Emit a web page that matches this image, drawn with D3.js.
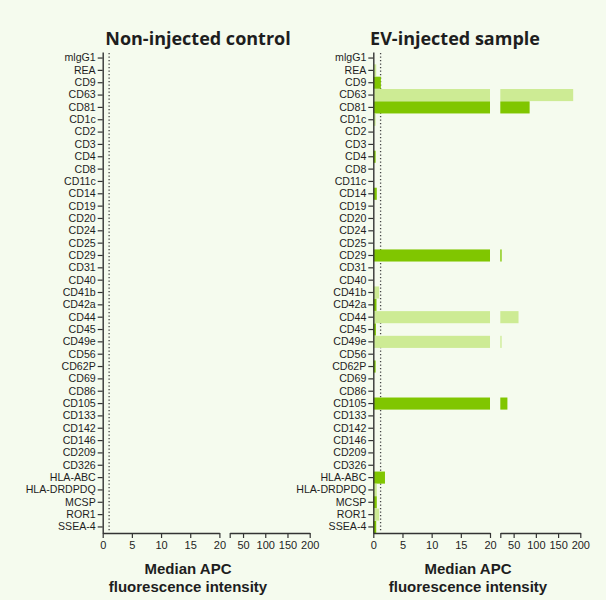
<!DOCTYPE html>
<html>
<head>
<meta charset="utf-8">
<script src="https://cdn.jsdelivr.net/npm/d3@7"></script>
<style>
  html, body { margin: 0; padding: 0; background: #f5fbee; }
  svg { display: block; }
  text { font-family: "Open Sans", "DejaVu Sans", sans-serif; fill: #1e1e1e; }
</style>
</head>
<body>
<script>
// Surface markers screened on the bead array
const markers = ["mlgG1", "REA", "CD9", "CD63", "CD81", "CD1c", "CD2", "CD3", "CD4", "CD8",
  "CD11c", "CD14", "CD19", "CD20", "CD24", "CD25", "CD29", "CD31", "CD40", "CD41b",
  "CD42a", "CD44", "CD45", "CD49e", "CD56", "CD62P", "CD69", "CD86", "CD105", "CD133",
  "CD142", "CD146", "CD209", "CD326", "HLA-ABC", "HLA-DRDPDQ", "MCSP", "ROR1", "SSEA-4"];

// Antibody group of each marker (1 or 2)
const markerGroup = [1, 2, 1, 2, 1, 2, 1, 1, 1, 1,
  1, 1, 1, 1, 1, 1, 1, 1, 1, 2,
  1, 2, 1, 2, 1, 1, 1, 1, 1, 1,
  1, 1, 1, 1, 1, 2, 1, 2, 1];

// Median APC fluorescence intensity, non-injected control
const controlValues = [0, 0, 0, 0, 0, 0, 0, 0, 0, 0,
  0, 0, 0, 0, 0, 0, 0, 0, 0, 0,
  0, 0, 0, 0, 0, 0, 0, 0, 0, 0,
  0, 0, 0, 0, 0, 0, 0, 0, 0];

// Median APC fluorescence intensity, EV-injected sample
const evValues = [0, 0.5, 1.3, 184, 86, 0.4, 0, 0, 0.4, 0,
  0, 0.6, 0, 0, 0, 0, 23, 0, 0, 1.0,
  0.55, 61, 0.45, 23, 0, 0.4, 0, 0, 36, 0,
  0, 0, 0, 0, 2.0, 0.6, 0.6, 1.0, 0.5];

// Background thresholds (dotted lines)
const thresholds = [1.1, 1.25];

const panelTitles = ["Non-injected control", "EV-injected sample"];
const lowTicks = [0, 5, 10, 15, 20];
const highTicks = [20, 50, 100, 150, 200];
const axisTitle = ["Median APC", "fluorescence intensity"];

const W = 606, H = 600;
const tickFont = "'Liberation Sans', Arimo, sans-serif";
const svg = d3.select("body").append("svg").attr("width", W).attr("height", H);
svg.append("rect").attr("width", W).attr("height", H).attr("fill", "#f5fbee");

const color = d3.scaleOrdinal().domain([1, 2]).range(["#80c600", "#cdeb94"]);

const y = d3.scaleBand().domain(markers).range([52, 533]).paddingInner(0.02);

const panels = [
  { title: panelTitles[0], values: controlValues, x0: 102.7, titleX: 198, labelX: 188, thr: thresholds[0] },
  { title: panelTitles[1], values: evValues, x0: 373.3, titleX: 455, labelX: 468, thr: thresholds[1] }
];

panels.forEach(p => {
  const g = svg.append("g");
  const xLow = d3.scaleLinear().domain([0, 20]).range([p.x0, p.x0 + 116.7]);
  const xHigh = d3.scaleLinear().domain([20, 200]).range([p.x0 + 127, p.x0 + 207]);

  // threshold line, under the bars
  g.append("line")
    .attr("x1", xLow(p.thr)).attr("x2", xLow(p.thr))
    .attr("y1", 53).attr("y2", 532)
    .attr("stroke", "#444").attr("stroke-width", 1.3)
    .attr("stroke-dasharray", "1.3,2.2");

  const rows = markers.map((m, i) => ({ m, v: p.values[i], grp: markerGroup[i] }));

  // lower segment of each bar
  g.selectAll("rect.low").data(rows.filter(d => d.v > 0)).join("rect")
    .attr("class", "low")
    .attr("x", xLow(0))
    .attr("y", d => y(d.m))
    .attr("width", d => xLow(Math.min(d.v, 20)) - xLow(0))
    .attr("height", y.bandwidth())
    .attr("fill", d => color(d.grp));

  // upper segment, beyond the axis break
  g.selectAll("rect.high").data(rows.filter(d => d.v > 20)).join("rect")
    .attr("class", "high")
    .attr("x", xHigh(20))
    .attr("y", d => y(d.m))
    .attr("width", d => xHigh(d.v) - xHigh(20))
    .attr("height", y.bandwidth())
    .attr("fill", d => color(d.grp));

  // y axis
  const yAxis = g.append("g")
    .attr("transform", `translate(${p.x0},0)`)
    .call(d3.axisLeft(y).tickSize(5).tickPadding(2).tickSizeOuter(0));
  yAxis.select(".domain").attr("stroke", "#333").attr("stroke-width", 1.4);
  yAxis.selectAll(".tick line").attr("stroke", "#333").attr("stroke-width", 1.2);
  yAxis.selectAll(".tick text").style("font-size", "10.6px").style("font-family", tickFont).attr("fill", "#1e1e1e");

  // x axis, two segments
  const axLow = g.append("g")
    .attr("transform", "translate(0,533)")
    .call(d3.axisBottom(xLow).tickValues(lowTicks).tickSize(5).tickSizeOuter(0).tickPadding(3));
  const axHigh = g.append("g")
    .attr("transform", "translate(0,533)")
    .call(d3.axisBottom(xHigh).tickValues(highTicks).tickSize(5).tickSizeOuter(0).tickPadding(3)
      .tickFormat(d => d === 20 ? "" : d));
  [axLow, axHigh].forEach(a => {
    a.select(".domain").attr("stroke", "#333").attr("stroke-width", 1.4);
    a.selectAll(".tick line").attr("stroke", "#333").attr("stroke-width", 1.2);
    a.selectAll(".tick text").style("font-size", "11px").style("font-family", tickFont).attr("fill", "#1e1e1e");
  });

  // panel title
  svg.append("text")
    .attr("x", p.titleX).attr("y", 45)
    .attr("text-anchor", "middle")
    .style("font-size", "18px").style("font-weight", "bold")
    .text(p.title);

  // axis title
  axisTitle.forEach((t, i) => {
    svg.append("text")
      .attr("x", p.labelX).attr("y", 574 + i * 17.5)
      .attr("text-anchor", "middle")
      .style("font-family", tickFont)
      .style("font-size", "15px").style("font-weight", "bold")
      .text(t);
  });
});
</script>
</body>
</html>
